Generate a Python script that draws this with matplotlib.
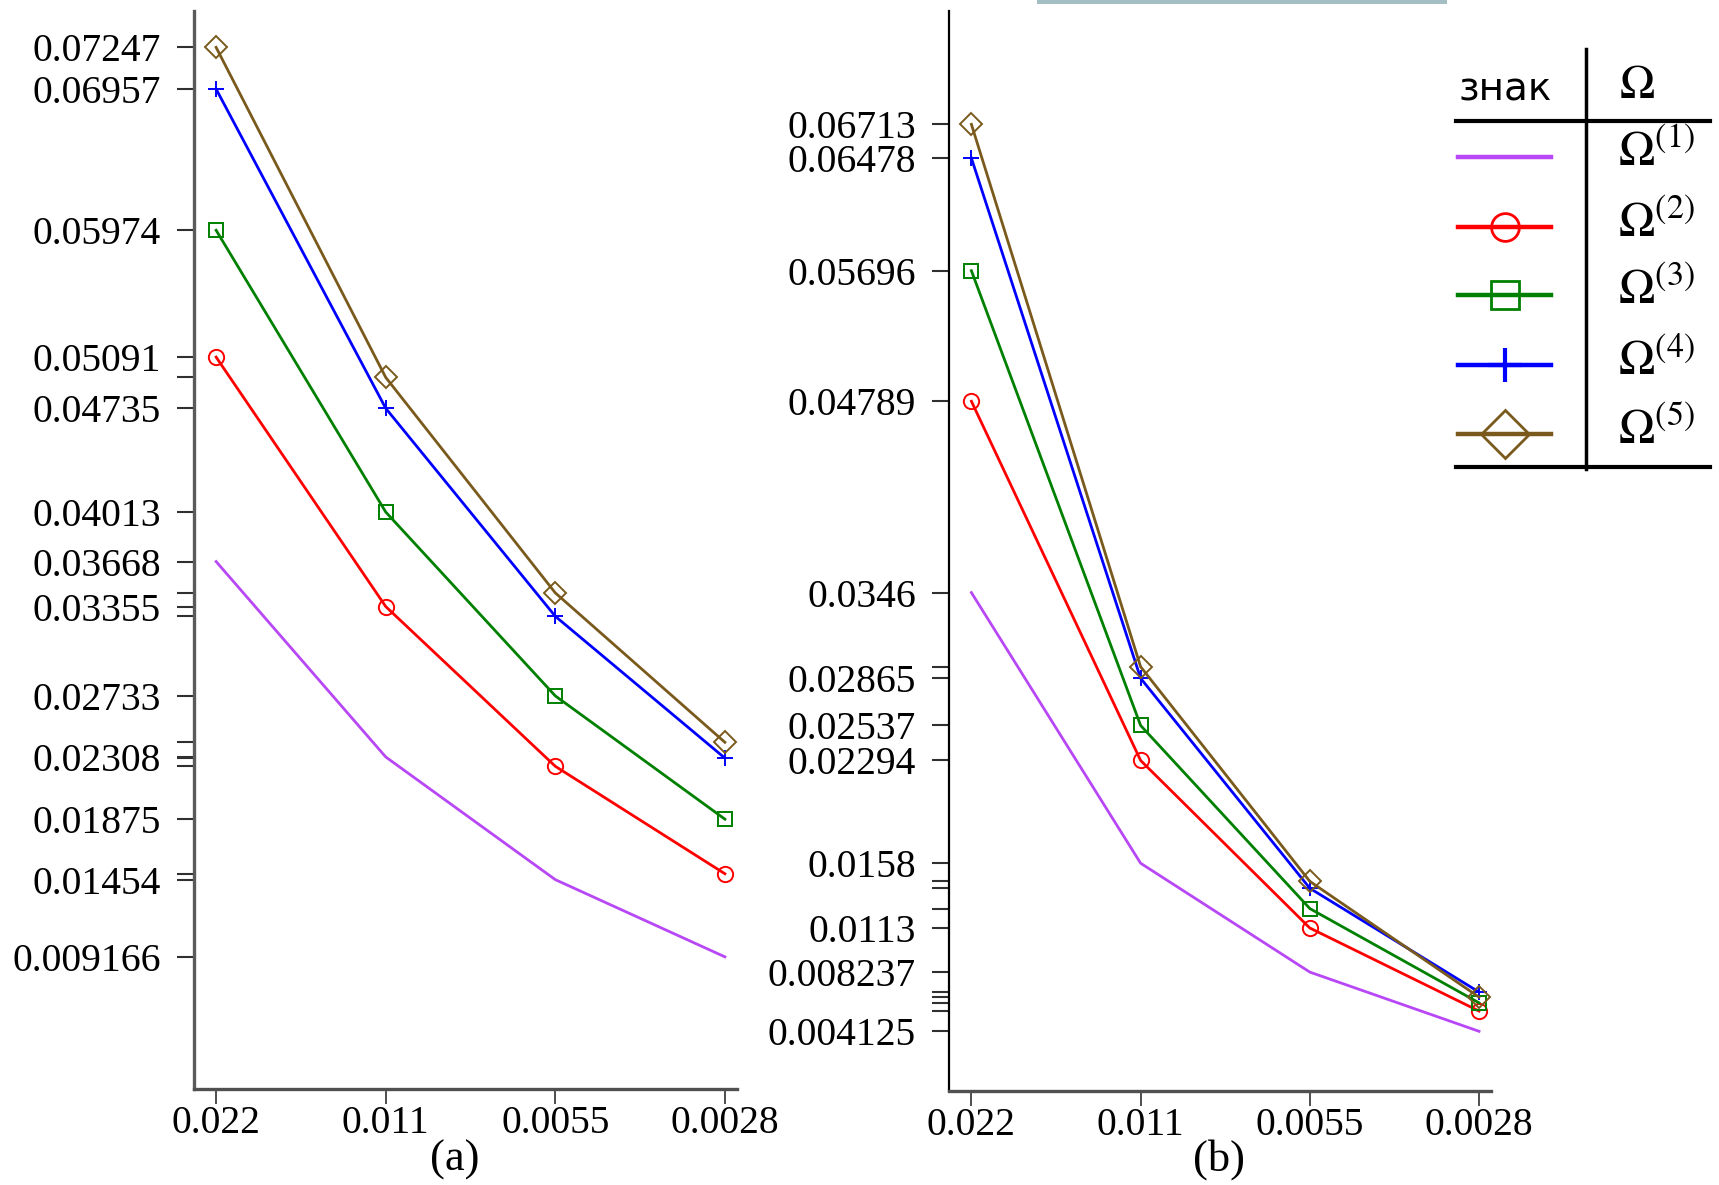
import matplotlib.pyplot as plt
from matplotlib.lines import Line2D

plt.rcParams['mathtext.fontset'] = 'stix'

# x categories (step sizes)
steps = ["0.022", "0.011", "0.0055", "0.0028"]

# panel (a) values
a_om1 = [0.03668, 0.02308, 0.01454, 0.009166]
a_om2 = [0.05091, 0.03355, 0.02243, 0.01495]
a_om3 = [0.05974, 0.04013, 0.02733, 0.01875]
a_om4 = [0.06957, 0.04735, 0.03287, 0.02300]
a_om5 = [0.07247, 0.04950, 0.03450, 0.02410]
a_labeled = [0.07247, 0.06957, 0.05974, 0.05091, 0.04735, 0.04013, 0.03668,
             0.03355, 0.02733, 0.02308, 0.01875, 0.01454, 0.009166]

# panel (b) values
b_om1 = [0.0346, 0.0158, 0.008237, 0.004125]
b_om2 = [0.04789, 0.02294, 0.0113, 0.00553]
b_om3 = [0.05696, 0.02537, 0.01265, 0.00610]
b_om4 = [0.06478, 0.02865, 0.01406, 0.00685]
b_om5 = [0.06713, 0.02945, 0.01454, 0.00650]
b_labeled = [0.06713, 0.06478, 0.05696, 0.04789, 0.0346, 0.02865, 0.02537,
             0.02294, 0.0158, 0.0113, 0.008237, 0.004125]

series_names = [r"$\Omega^{(1)}$", r"$\Omega^{(2)}$", r"$\Omega^{(3)}$",
                r"$\Omega^{(4)}$", r"$\Omega^{(5)}$"]

# style for each series: colour, marker, marker size
styles = [
    ("#B847F5", "None", 0),
    ("#FF0000", "o", 11),
    ("#008000", "s", 10),
    ("#0000FF", "+", 12),
    ("#7A5A1C", "D", 11),
]

serif = "Liberation Serif"
tick_fs = 28.5

fig = plt.figure(figsize=(17.19, 11.85), dpi=100)


def draw_panel(rect, data, labeled, left_color, left_lw):
    ax = fig.add_axes(rect)
    x = list(range(len(steps)))
    for vals, (col, mk, ms) in zip(data, styles):
        ax.plot(x, vals, color=col, lw=2.0, marker=mk, ms=ms,
                mfc="none", mec=col, mew=1.4)
    ax.set_xlim(-0.13, 3.07)
    ax.set_ylim(0, 0.075)
    ax.spines["top"].set_visible(False)
    ax.spines["right"].set_visible(False)
    ax.spines["left"].set_color(left_color)
    ax.spines["left"].set_linewidth(left_lw)
    ax.spines["bottom"].set_color("#505050")
    ax.spines["bottom"].set_linewidth(2.4)

    ax.set_xticks(x)
    ax.set_xticklabels(steps, fontfamily=serif, fontsize=tick_fs)
    ax.tick_params(axis="x", length=11, width=1.3, color="#404040", pad=1)

    # labeled ticks plus extra unlabeled ticks at remaining data values
    extra = sorted({v for vals in data for v in vals} - set(labeled))
    ax.set_yticks(labeled)
    ax.set_yticklabels([str(v) for v in labeled], fontfamily=serif,
                       fontsize=tick_fs)
    ax.set_yticks(extra, minor=True)
    ax.tick_params(axis="y", which="both", length=12, width=1.5,
                   color="#303030", pad=12)
    return ax


draw_panel([0.1129, 0.0814, 0.3157, 0.9093],
           [a_om1, a_om2, a_om3, a_om4, a_om5], a_labeled, "#5a5a5a", 2.4)
draw_panel([0.5523, 0.0796, 0.3150, 0.9111],
           [b_om1, b_om2, b_om3, b_om4, b_om5], b_labeled, "black", 1.6)

# overlay in reference pixel units for captions and the legend table
ov = fig.add_axes([0, 0, 1, 1])
ov.set_xlim(0, 1568)
ov.set_ylim(1081, 0)
ov.axis("off")

ov.add_patch(plt.Rectangle((946, 0), 374, 4, color="#A3BFC3", lw=0))
ov.text(415, 1058, "(a)", fontfamily=serif, fontsize=32, ha="center", va="center")
ov.text(1112, 1058, "(b)", fontfamily=serif, fontsize=32, ha="center", va="center")

# legend table
ov.add_line(Line2D([1447, 1447], [45, 428], color="black", lw=2.5))
ov.add_line(Line2D([1328, 1560], [110, 110], color="black", lw=3))
ov.add_line(Line2D([1328, 1560], [426, 426], color="black", lw=3))
ov.text(1373, 82, "знак", fontfamily="DejaVu Sans", fontsize=28,
        ha="center", va="center")
ov.text(1493, 78, r"$\Omega$", fontsize=34, ha="center", va="center")

rows = [143, 207, 269, 333, 396]
leg_ms = [0, 20, 20, 24, 24]
for yy, name, (col, mk, ms), lms in zip(rows, series_names, styles, leg_ms):
    ov.add_line(Line2D([1330, 1415], [yy, yy], color=col, lw=3.2))
    if mk != "None":
        ov.add_line(Line2D([1373], [yy], color=col, marker=mk, ms=lms,
                           mfc="none", mec=col, mew=3 if mk == "+" else 2))
    ov.text(1476, yy - 4, name, fontsize=35, ha="left", va="center")

fig.savefig("out.png", dpi=100)
